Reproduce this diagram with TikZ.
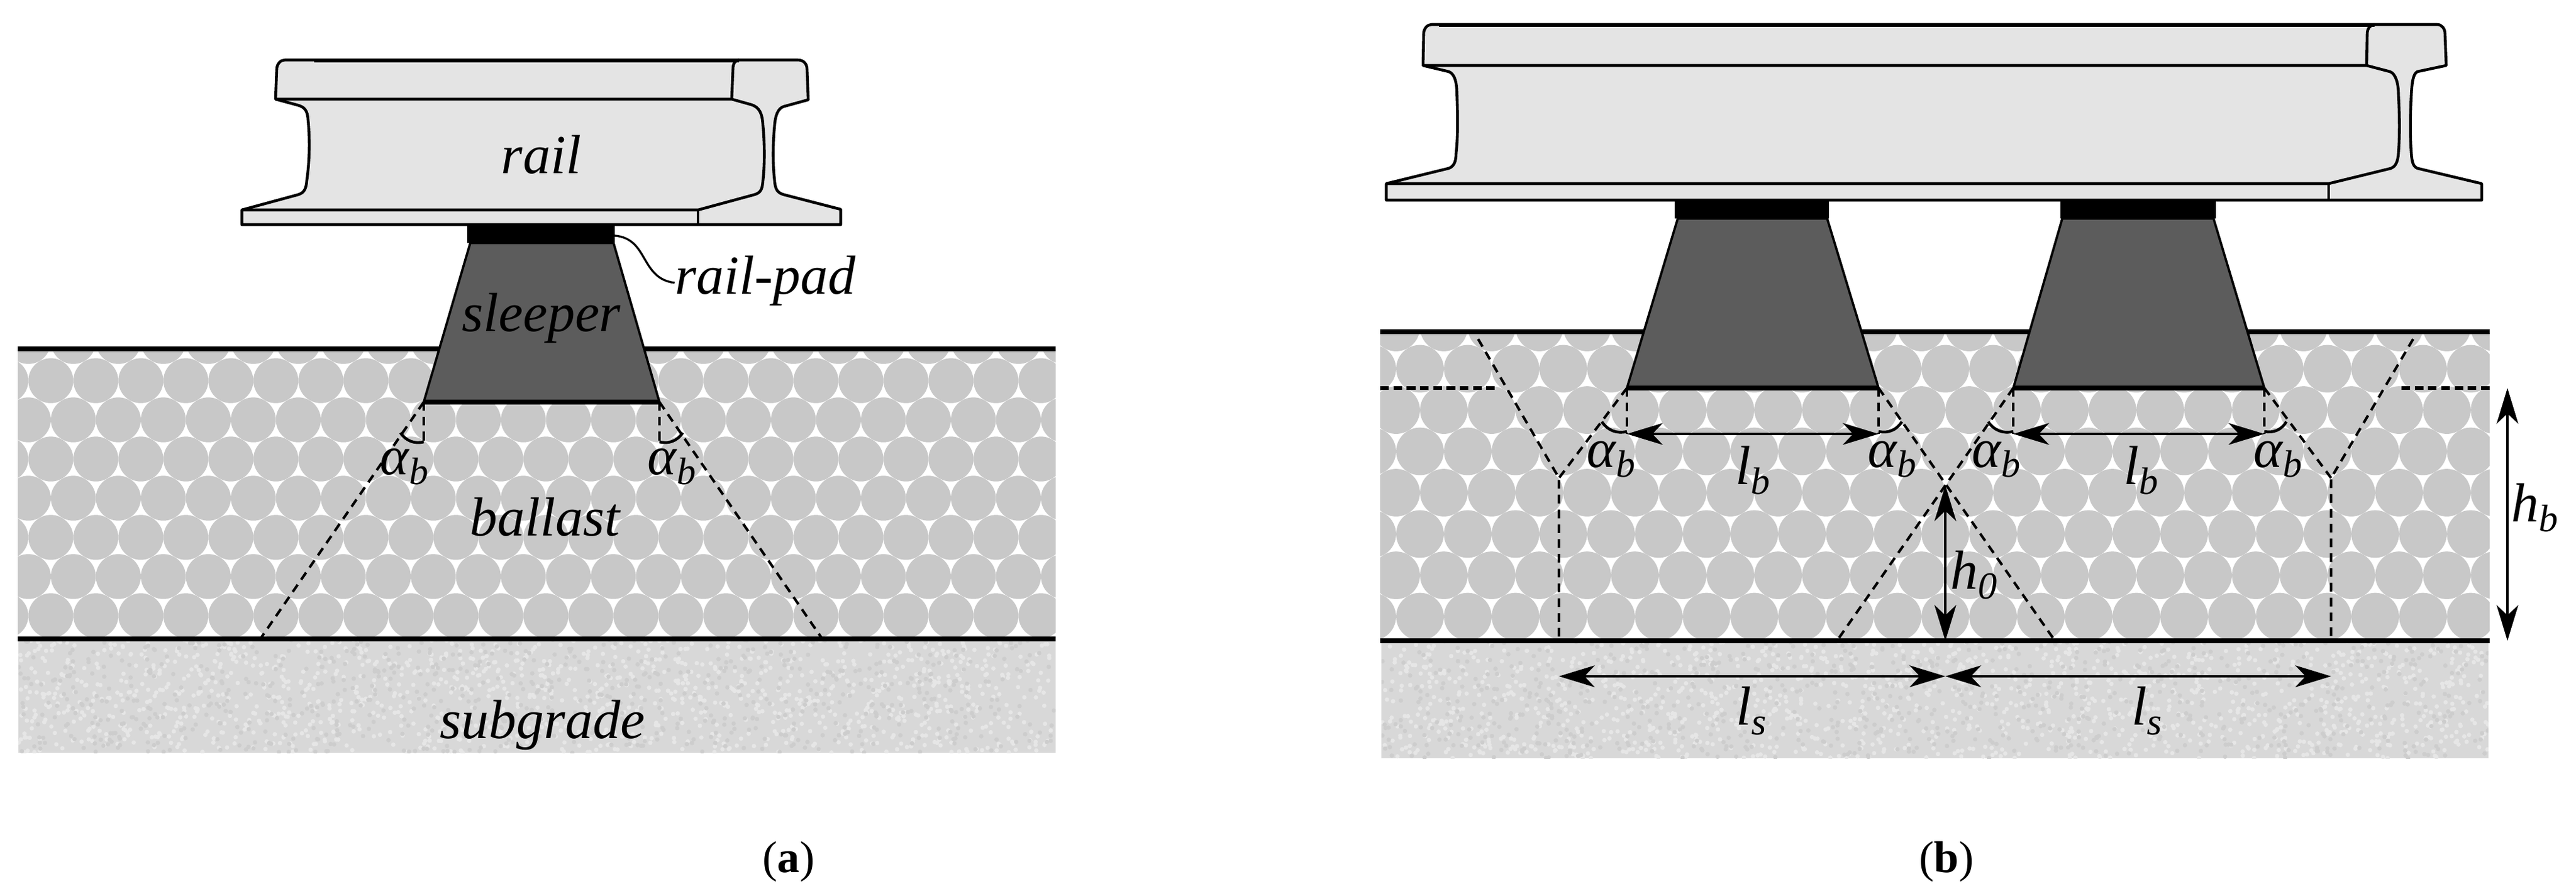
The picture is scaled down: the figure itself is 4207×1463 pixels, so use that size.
\documentclass[tikz,border=0pt]{standalone}
\usepackage{fontspec}
\setmainfont{Liberation Serif}
\usetikzlibrary{arrows.meta, calc}
\definecolor{railgray}{HTML}{E4E4E4}
\definecolor{sleepergray}{HTML}{5C5C5C}
\definecolor{ballastgray}{HTML}{C8C8C8}
\definecolor{gritgray}{HTML}{D8D8D8}
\definecolor{gritlight}{HTML}{E6E6E6}
\definecolor{gritdark}{HTML}{CDCDCD}
\newcommand{\lblsub}[2]{#1\raisebox{-4pt}{\fontsize{15}{15}\selectfont #2}}
\tikzset{
	railline/.style = {line width=1.1pt, line join=round},
	sleeperside/.style = {draw=black, fill=sleepergray, line width=0.9pt},
	sleeperbase/.style = {line width=1.7pt},
	groundline/.style = {line width=2pt},
	spreadline/.style = {line width=1pt, dash pattern=on 3.4pt off 2.4pt},
	levelline/.style = {line width=1.4pt, dash pattern=on 3.4pt off 1.8pt},
	anglearc/.style = {line width=1.1pt},
	dimarrow/.style = {line width=1.1pt, {Stealth[length=14pt,width=8.5pt,inset=4pt]}-{Stealth[length=14pt,width=8.5pt,inset=4pt]}},
	lbl/.style = {anchor=base, inner sep=0pt, font=\fontsize{21.6}{24}\selectfont\itshape},
	captionlbl/.style = {anchor=base, inner sep=0pt, font=\fontsize{17.5}{20}\selectfont}
}
\begin{document}
\begin{tikzpicture}[x=0.24pt, y=-0.24pt]
	\useasboundingbox (0,0) rectangle (4207,1463);
	% (a) ballast
	\begin{scope}
		\clip (29,570) rectangle (1724,1044);
		\foreach \row in {0,...,7}
			\foreach \col in {-1,...,23}
				\fill[ballastgray] ({83+73.5*(\col+0.5*mod(\row+1,2))},{558+64*\row}) circle (36.7);
	\end{scope}
	% (a) subgrade
	\begin{scope}
		\clip (30,1044) rectangle (1724,1230);
		\fill[gritgray] (30,1044) rectangle (1724,1230);
		\pgfmathsetseed{11}
		\fill[gritlight] \foreach \i in {1,...,1300} {({30+1694*rnd},{1044+186*rnd}) circle (3.6)};
		\fill[gritdark] \foreach \i in {1,...,800} {({30+1694*rnd},{1044+186*rnd}) circle (3.6)};
	\end{scope}
	\draw[groundline] (29,570) -- (1724,570);
	\draw[groundline] (29,1044) -- (1724,1044);
	% (a) rail
	\draw[railline, fill=railgray] (465,98) -- (1303,98) .. controls (1313,98) and (1318,105) .. (1318,113) -- (1320,163) -- (1280,174) .. controls (1270,177) and (1266,190) .. (1265,205) .. controls (1262,235) and (1262,270) .. (1265,295) .. controls (1266,310) and (1270,315) .. (1280,318) -- (1373,342) -- (1373,367) -- (395,367) -- (395,343) -- (487,318) .. controls (497,315) and (500,308) .. (501,295) .. controls (506,260) and (506,225) .. (503,195) .. controls (502,180) and (497,175) .. (487,172) -- (450,162) -- (452,113) .. controls (452,105) and (458,98) .. (465,98) -- cycle;
	\draw[railline] (450,162) -- (1195,162) -- (1227,171) .. controls (1240,175) and (1245,185) .. (1246,205) .. controls (1249,235) and (1249,270) .. (1246,295) .. controls (1245,310) and (1242,315) .. (1232,318) -- (1140,343) -- (395,343);
	\draw[railline] (1140,343) -- (1140,367);
	\draw[railline] (1195,162) -- (1197,113) .. controls (1197,105) and (1200,98) .. (1207,98);
	\draw[line width=1.6pt] (513,99) -- (1207,99);
	% (a) sleeper
	\fill (763,367) rectangle (1004,397);
	\draw[sleeperside] (768,397) -- (1002,397) -- (1077,657) -- (692,657) -- cycle;
	\draw[sleeperbase] (692,657) -- (1077,657);
	\coordinate (acornerl) at (692,657);
	\coordinate (acornerr) at (1077,657);
	\coordinate (abasel) at (425,1044);
	\coordinate (abaser) at (1343,1044);
	\coordinate (aarcl) at (692,722);
	\coordinate (aarcr) at (1077,722);
	\draw[spreadline] (acornerl) -- (abasel);
	\draw[spreadline] (acornerr) -- (abaser);
	\draw[spreadline] (acornerl) -- (aarcl);
	\draw[spreadline] (acornerr) -- (aarcr);
	\draw[anglearc] (aarcl) to[bend left=35] (654,707);
	\draw[anglearc] (aarcr) to[bend right=35] (1115,707);
	% (a) labels
	\node[lbl] (railtext) at (884,283) {rail};
	\node[lbl] (sleepertext) at (884,541) {sleeper};
	\node[lbl] (padtext) at (1250,480) {rail-pad};
	\node[lbl] (ballasttext) at (890,875) {ballast};
	\node[lbl] (subgradetext) at (886,1206) {subgrade};
	\node[lbl] (aalphal) at (660,775) {\lblsub{α}{b}};
	\node[lbl] (aalphar) at (1097,775) {\lblsub{α}{b}};
	\coordinate (padedge) at (1004,385);
	\draw[line width=0.8pt] (padedge) .. controls (1060,390) and (1045,455) .. (padtext.base west |- 0,462);
	\node[captionlbl] (acaption) at (1288,1425) {(\textbf{a})};
	% (b) ballast
	\begin{scope}
		\clip (2254,542) rectangle (4066,1047);
		\foreach \row in {0,...,7}
			\foreach \col in {-12,...,12}
				\fill[ballastgray] ({3177+78*(\col+0.5*mod(\row+1,2))},{535+67.5*\row}) circle (38.9);
	\end{scope}
	% (b) subgrade
	\begin{scope}
		\clip (2256,1047) rectangle (4064,1239);
		\fill[gritgray] (2256,1047) rectangle (4064,1239);
		\pgfmathsetseed{23}
		\fill[gritlight] \foreach \i in {1,...,1400} {({2256+1808*rnd},{1047+192*rnd}) circle (3.6)};
		\fill[gritdark] \foreach \i in {1,...,850} {({2256+1808*rnd},{1047+192*rnd}) circle (3.6)};
	\end{scope}
	\draw[groundline] (2254,542) -- (4066,542);
	\draw[groundline] (2254,1047) -- (4066,1047);
	% (b) rail
	\draw[railline, fill=railgray] (2338,40) -- (3980,40) .. controls (3988,40) and (3993,47) .. (3993,55) -- (3995,107) -- (3948,117) .. controls (3941,120) and (3939,135) .. (3938,155) .. controls (3936,190) and (3936,225) .. (3938,250) .. controls (3939,265) and (3941,272) .. (3948,275) -- (4053,300) -- (4053,327) -- (2264,327) -- (2264,300) -- (2366,275) .. controls (2374,272) and (2378,265) .. (2378,250) .. controls (2381,225) and (2381,190) .. (2379,145) .. controls (2378,130) and (2374,120) .. (2366,117) -- (2324,107) -- (2325,55) .. controls (2325,47) and (2331,40) .. (2338,40) -- cycle;
	\draw[railline] (2324,107) -- (3865,107) -- (3903,117) .. controls (3912,120) and (3917,135) .. (3917,155) .. controls (3919,190) and (3919,225) .. (3917,250) .. controls (3916,265) and (3912,272) .. (3905,275) -- (3803,300) -- (2264,300);
	\draw[railline] (3803,300) -- (3803,327);
	\draw[railline] (3865,107) -- (3866,55) .. controls (3866,47) and (3871,40) .. (3878,40);
	\draw[line width=1.6pt] (2350,41) -- (3878,41);
	% (b) sleepers
	\fill (2735,327) rectangle (2987,357);
	\fill (3365,327) rectangle (3619,357);
	\draw[sleeperside] (2740,357) -- (2984,357) -- (3068,634) -- (2657,634) -- cycle;
	\draw[sleeperside] (3368,357) -- (3615,357) -- (3698,634) -- (3288,634) -- cycle;
	\draw[sleeperbase] (2657,634) -- (3068,634);
	\draw[sleeperbase] (3288,634) -- (3698,634);
	\coordinate (bcorner1) at (2657,634);
	\coordinate (bcorner2) at (3068,634);
	\coordinate (bcorner3) at (3288,634);
	\coordinate (bcorner4) at (3698,634);
	\coordinate (barc1) at (2657,709);
	\coordinate (barc2) at (3068,709);
	\coordinate (barc3) at (3288,709);
	\coordinate (barc4) at (3698,709);
	\coordinate (bforkl) at (2546,781);
	\coordinate (bforkr) at (3807,781);
	\coordinate (bapex) at (3177,793);
	\coordinate (bfootl) at (2546,1047);
	\coordinate (bfootr) at (3807,1047);
	\coordinate (bbasel) at (3000,1047);
	\coordinate (bbaser) at (3356,1047);
	\coordinate (bbasec) at (3177,1047);
	\coordinate (blevell) at (2254,634);
	\coordinate (bkneel) at (2441,634);
	\coordinate (blevelr) at (4066,634);
	\coordinate (bkneer) at (3916,634);
	\coordinate (btopl) at (2414,554);
	\coordinate (btopr) at (3941,554);
	\coordinate (bhtop) at (4095,634);
	\coordinate (bhbot) at (4095,1047);
	\coordinate (bsy) at (3177,1105);
	\coordinate (bsl) at (2546,1105);
	\coordinate (bsr) at (3807,1105);
	\draw[levelline] (blevell) -- (bkneel);
	\draw[levelline] (blevelr) -- (bkneer);
	\draw[spreadline] (btopl) -- (bforkl) -- (bfootl);
	\draw[spreadline] (btopr) -- (bforkr) -- (bfootr);
	\draw[spreadline] (bcorner1) -- (bforkl);
	\draw[spreadline] (bcorner4) -- (bforkr);
	\draw[spreadline] (bcorner2) -- (bbaser);
	\draw[spreadline] (bcorner3) -- (bbasel);
	\foreach \n in {1,...,4}
		\draw[spreadline] (bcorner\n) -- (barc\n);
	\draw[anglearc] (2657,705) to[bend left=35] (2616,689);
	\draw[anglearc] (3068,705) to[bend right=35] (3106,689);
	\draw[anglearc] (3288,705) to[bend left=35] (3247,689);
	\draw[anglearc] (3698,705) to[bend right=35] (3734,689);
	\draw[dimarrow] (barc1) -- (barc2);
	\draw[dimarrow] (barc3) -- (barc4);
	\draw[dimarrow] (bapex) -- (bbasec);
	\draw[dimarrow, line width=0.8pt] (bhtop) -- (bhbot);
	\draw[dimarrow] (bsl) -- (bsy);
	\draw[dimarrow] (bsy) -- (bsr);
	% (b) labels
	\foreach \nam/\xpos in {balpha1/2631, balpha2/3090, balpha3/3260, balpha4/3720}
		\node[lbl] (\nam) at (\xpos,763) {\lblsub{α}{b}};
	\node[lbl] (blb1) at (2863,791) {\lblsub{l}{b}};
	\node[lbl] (blb2) at (3497,791) {\lblsub{l}{b}};
	\node[lbl] (bls1) at (2860,1184) {\lblsub{l}{s}};
	\node[lbl] (bls2) at (3506,1184) {\lblsub{l}{s}};
	\node[lbl] (bh0) at (3224,962) {\lblsub{h}{0}};
	\node[lbl] (bhb) at (4140,852) {\lblsub{h}{b}};
	\node[captionlbl] (bcaption) at (3179,1425) {(\textbf{b})};
\end{tikzpicture}
\end{document}
